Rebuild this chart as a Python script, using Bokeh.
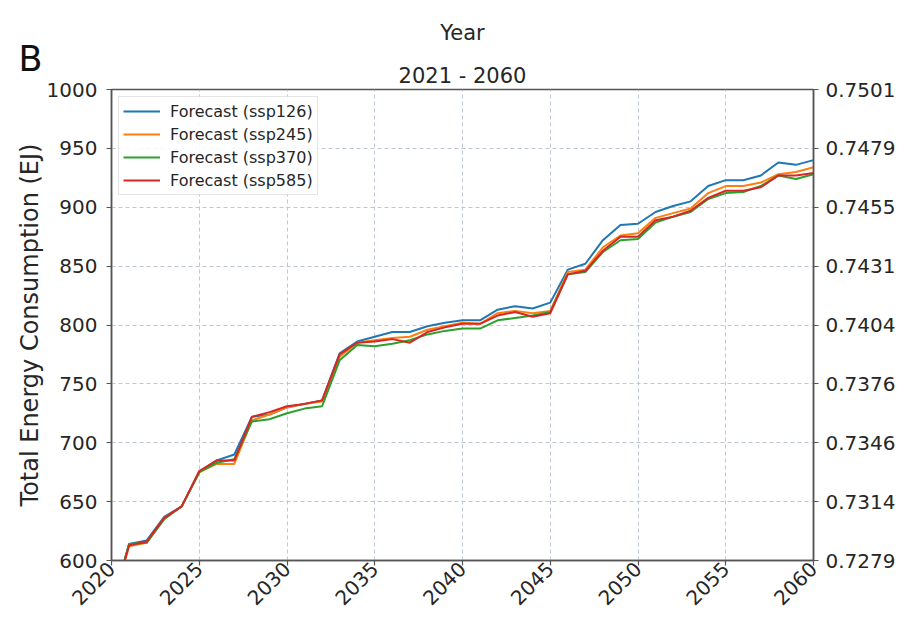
import math
from bokeh.plotting import figure
from bokeh.models import LinearAxis, FixedTicker, Legend, LegendItem, Title
from bokeh.embed import file_html
from bokeh.resources import INLINE

years = list(range(2020, 2061))

ssp126 = [560, 614, 617, 637, 646, 675, 685, 690, 722, 724,
          730, 733, 736, 776, 786, 790, 794, 794, 799, 802,
          804, 804, 813, 816, 814, 819, 847, 852, 872, 885,
          886, 896, 901, 905, 918, 923, 923, 927, 938, 936, 940]
ssp245 = [560, 612, 615, 636, 646, 675, 682, 682, 719, 724,
          730, 733, 735, 773, 785, 787, 789, 790, 796, 799,
          802, 801, 810, 812, 810, 812, 845, 847, 866, 876,
          878, 891, 895, 899, 912, 918, 918, 921, 928, 930, 934]
ssp370 = [560, 614, 615, 635, 646, 675, 683, 686, 718, 720,
          725, 729, 731, 770, 783, 782, 784, 787, 792, 795,
          797, 797, 804, 806, 808, 811, 843, 845, 862, 872,
          873, 887, 892, 896, 907, 912, 913, 918, 927, 924, 928]
ssp585 = [560, 613, 616, 636, 646, 676, 685, 685, 722, 726,
          731, 733, 736, 775, 785, 786, 788, 785, 794, 798,
          801, 801, 808, 811, 807, 810, 843, 846, 863, 875,
          875, 889, 892, 897, 908, 914, 914, 917, 927, 927, 929]

series_names = ["Forecast (ssp126)", "Forecast (ssp245)", "Forecast (ssp370)", "Forecast (ssp585)"]
series_colors = ["#1f77b4", "#ff7f0e", "#2ca02c", "#d62728"]

x_ticks = [2020, 2025, 2030, 2035, 2040, 2045, 2050, 2055, 2060]
y_ticks = [600, 650, 700, 750, 800, 850, 900, 950, 1000]
right_tick_labels = ["0.7279", "0.7314", "0.7346", "0.7376", "0.7404",
                     "0.7431", "0.7455", "0.7479", "0.7501"]

FONT = "DejaVu Sans"
TXT = "#262626"

p = figure(width=903, height=614, output_backend="svg", toolbar_location=None,
           x_range=(2020, 2060), y_range=(600, 1000), title_location=None,
           min_border_left=111, min_border_right=90,
           min_border_top=89, min_border_bottom=54)
p.background_fill_color = "white"
p.border_fill_color = "white"
p.outline_line_color = "#555555"
p.outline_line_width = 1.5

# stacked titles (first is closest to the frame)
p.add_layout(Title(text="2021 - 2060", align="center", text_font=FONT,
                   text_font_size="21px", text_font_style="normal",
                   text_color=TXT, standoff=3, offset=1), "above")
p.add_layout(Title(text="B", align="left", text_font=FONT,
                   text_font_size="35px", text_font_style="normal",
                   text_color="#111111", standoff=-36, offset=-93), "above")
p.add_layout(Title(text="Year", align="center", text_font=FONT,
                   text_font_size="21px", text_font_style="normal",
                   text_color=TXT, standoff=19, offset=3), "above")

renderers = []
for vals, name, col in zip([ssp126, ssp245, ssp370, ssp585], series_names, series_colors):
    r = p.line(years, vals, line_color=col, line_width=2)
    renderers.append((name, r))

legend = Legend(items=[LegendItem(label=n, renderers=[r]) for n, r in renderers],
                location="top_left")
legend.label_text_font = FONT
legend.label_text_font_size = "16px"
legend.label_text_color = TXT
legend.glyph_width = 37
legend.glyph_height = 20
legend.label_height = 20
legend.label_standoff = 10
legend.spacing = 3
legend.padding = 4
legend.margin = 7
legend.border_line_color = "#cccccc"
legend.border_line_width = 1
legend.background_fill_alpha = 0.85
p.add_layout(legend)

xa = p.xaxis[0]
xa.ticker = FixedTicker(ticks=x_ticks)
xa.major_label_orientation = math.pi / 4
ya = p.yaxis[0]
ya.ticker = FixedTicker(ticks=y_ticks)
ya.axis_label = "Total Energy Consumption (EJ)"

ra = LinearAxis(ticker=FixedTicker(ticks=y_ticks),
                major_label_overrides={t: l for t, l in zip(y_ticks, right_tick_labels)})
p.add_layout(ra, "right")

for ax in [xa, ya, ra]:
    ax.axis_line_color = "#555555"
    ax.axis_line_width = 1.5
    ax.major_tick_line_color = "#555555"
    ax.major_tick_line_width = 1.2
    ax.major_tick_out = 5
    ax.major_tick_in = 0
    ax.minor_tick_line_color = None
    ax.major_label_text_font = FONT
    ax.major_label_text_font_size = "20px"
    ax.major_label_text_color = TXT
    ax.major_label_standoff = 9
    ax.axis_label_text_font = FONT
    ax.axis_label_text_font_size = "24px"
    ax.axis_label_text_font_style = "normal"
    ax.axis_label_text_color = TXT
ya.axis_label_standoff = 0
ra.major_label_standoff = 7
xa.major_label_standoff = 0

for g in [p.xgrid[0], p.ygrid[0]]:
    g.grid_line_color = "#b8c0d4"
    g.grid_line_dash = "4 3"
    g.grid_line_width = 1
    g.grid_line_alpha = 0.9

open("out.html", "w").write(file_html(p, INLINE))
